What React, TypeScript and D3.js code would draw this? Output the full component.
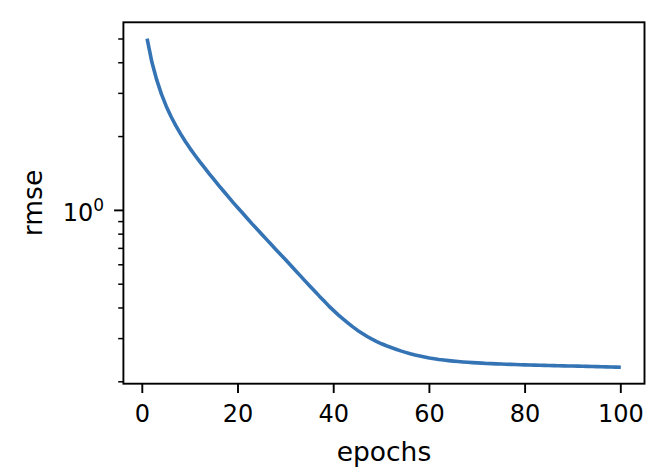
import React from "react";
import * as d3 from "d3";

// epochs 1..100
const epochs: number[] = d3.range(1, 101);

// rmse per epoch (log-scale y)
const rmse: number[] = [
  5.012, 4.027, 3.412, 2.979, 2.661, 2.415, 2.218, 2.051, 1.910, 1.786,
  1.679, 1.581, 1.493, 1.409, 1.334, 1.262, 1.197, 1.135, 1.076, 1.023,
  0.973, 0.925, 0.879, 0.838, 0.798, 0.760, 0.724, 0.690, 0.658, 0.627,
  0.597, 0.569, 0.542, 0.516, 0.492, 0.469, 0.447, 0.427, 0.407, 0.390,
  0.374, 0.360, 0.347, 0.335, 0.324, 0.315, 0.306, 0.2985, 0.2917, 0.2858,
  0.2805, 0.2761, 0.2716, 0.2673, 0.2636, 0.2600, 0.2570, 0.2547, 0.2523, 0.2500,
  0.2483, 0.2466, 0.2452, 0.2439, 0.2428, 0.2418, 0.2409, 0.2401, 0.2394, 0.2388,
  0.2382, 0.2376, 0.2371, 0.2367, 0.2362, 0.2359, 0.2355, 0.2351, 0.2348, 0.2345,
  0.2341, 0.2339, 0.2336, 0.2333, 0.2331, 0.2328, 0.2325, 0.2323, 0.2321, 0.2319,
  0.2316, 0.2313, 0.2311, 0.2308, 0.2305, 0.2303, 0.2300, 0.2297, 0.2295, 0.2292,
];

const xTicks: number[] = [0, 20, 40, 60, 80, 100];
const yMajorTicks: number[] = [1];
const xLabel = "epochs";
const yLabel = "rmse";

export default function App() {
  const W = 670;
  const H = 476;
  const left = 123.4;
  const right = 644.5;
  const top = 22.3;
  const bottom = 383.7;

  // matplotlib-like 5% margins
  const xMin = d3.min(epochs)!;
  const xMax = d3.max(epochs)!;
  const xPad = (xMax - xMin) * 0.05;
  const x = d3.scaleLinear().domain([xMin - xPad, xMax + xPad]).range([left, right]);

  const lMin = Math.log10(d3.min(rmse)!);
  const lMax = Math.log10(d3.max(rmse)!);
  const lPad = (lMax - lMin) * 0.05;
  const y = d3
    .scaleLog()
    .domain([Math.pow(10, lMin - lPad), Math.pow(10, lMax + lPad)])
    .range([bottom, top]);

  const allY = y.ticks().filter((t) => {
    const v = y(t);
    return v >= top - 0.5 && v <= bottom + 0.5;
  });
  const minorY = allY.filter((t) => !yMajorTicks.some((m) => Math.abs(m - t) < 1e-9));

  const line = d3
    .line<number>()
    .x((_, i) => x(epochs[i]))
    .y((d) => y(d));

  const font = "DejaVu Sans, sans-serif";
  const tickFs = 24;
  const labelFs = 26.5;
  const sw = 1.9;

  return (
    <svg
      width={W}
      height={H}
      style={{ position: "absolute", left: 0, top: 0, display: "block", background: "#fff" }}
      fontFamily={font}
    >
      <rect x={0} y={0} width={W} height={H} fill="#fff" />
      <path d={line(rmse) || ""} fill="none" stroke="#3574b4" strokeWidth={3.6} strokeLinejoin="round" strokeLinecap="butt" />

      {/* x ticks */}
      {xTicks.map((t) => (
        <g key={"x" + t}>
          <line x1={x(t)} x2={x(t)} y1={bottom} y2={bottom + 9.3} stroke="#000" strokeWidth={sw} />
          <text x={x(t)} y={422} textAnchor="middle" fontSize={tickFs} fill="#000">
            {t}
          </text>
        </g>
      ))}

      {/* y major ticks */}
      {yMajorTicks.map((t) => (
        <g key={"ym" + t}>
          <line x1={left - 9.3} x2={left} y1={y(t)} y2={y(t)} stroke="#000" strokeWidth={sw} />
          <text x={104} y={y(t) + 10.3} textAnchor="end" fontSize={tickFs} fill="#000">
            10
            <tspan dy={-9.5} fontSize={17}>
              {Math.round(Math.log10(t))}
            </tspan>
          </text>
        </g>
      ))}

      {/* y minor ticks */}
      {minorY.map((t) => (
        <line key={"yn" + t} x1={left - 5.2} x2={left} y1={y(t)} y2={y(t)} stroke="#000" strokeWidth={1.5} />
      ))}

      {/* frame */}
      <rect x={left} y={top} width={right - left} height={bottom - top} fill="none" stroke="#000" strokeWidth={sw} />

      {/* axis labels */}
      <text x={(left + right) / 2} y={460.5} textAnchor="middle" fontSize={labelFs} fill="#000">
        {xLabel}
      </text>
      <text
        transform={`translate(42.3, ${(top + bottom) / 2}) rotate(-90)`}
        textAnchor="middle"
        fontSize={labelFs}
        fill="#000"
      >
        {yLabel}
      </text>
    </svg>
  );
}
